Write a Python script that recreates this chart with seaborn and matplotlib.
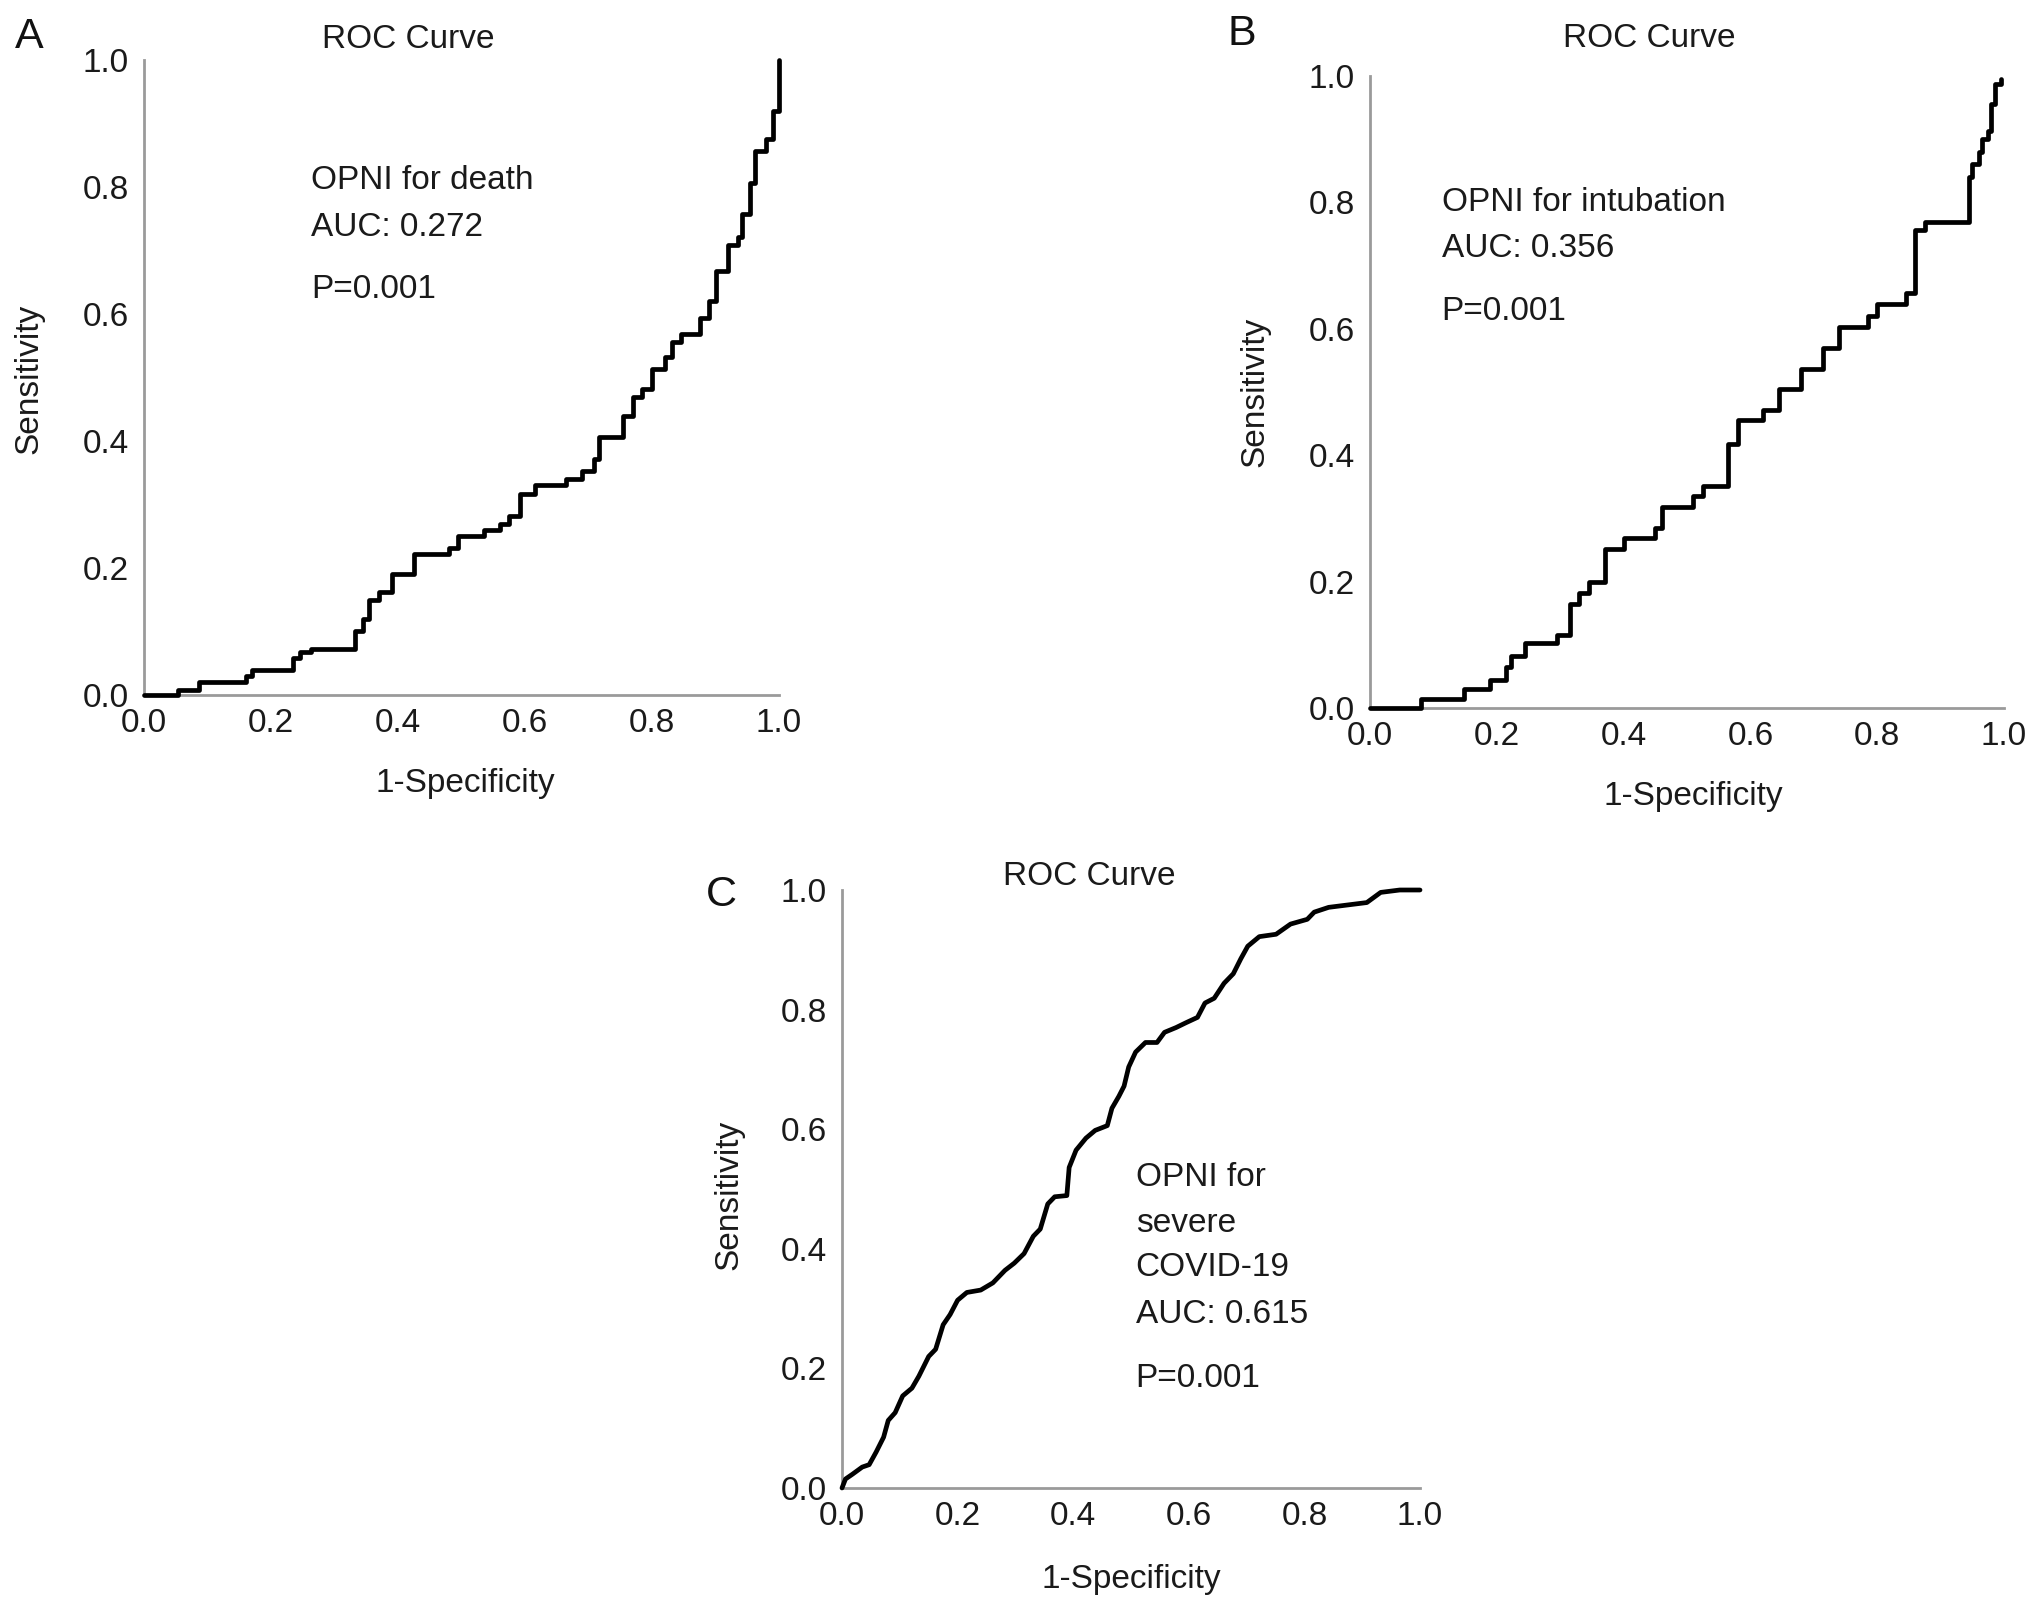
import numpy as np
import pandas as pd
import matplotlib
matplotlib.use("Agg")
import matplotlib.pyplot as plt
import seaborn as sns

# ---------------- data ----------------
# Panel A: OPNI for death (step points: x where step occurs, new y)
fpr_a = [0.0, 0.053, 0.086, 0.160, 0.170, 0.235, 0.245, 0.263, 0.333, 0.345, 0.355, 0.370,
         0.390, 0.425, 0.480, 0.495, 0.535, 0.560, 0.575, 0.592, 0.615, 0.665, 0.690, 0.708,
         0.717, 0.755, 0.770, 0.785, 0.800, 0.820, 0.832, 0.845, 0.875, 0.890, 0.900, 0.920,
         0.935, 0.942, 0.955, 0.962, 0.980, 0.990, 1.000]
tpr_a = [0.0, 0.008, 0.020, 0.030, 0.040, 0.058, 0.068, 0.072, 0.100, 0.120, 0.150, 0.162,
         0.190, 0.222, 0.232, 0.250, 0.260, 0.270, 0.282, 0.317, 0.330, 0.340, 0.352, 0.372,
         0.407, 0.440, 0.470, 0.482, 0.514, 0.532, 0.556, 0.568, 0.593, 0.620, 0.667, 0.708,
         0.722, 0.757, 0.807, 0.856, 0.876, 0.920, 1.000]

# Panel B: OPNI for intubation
fpr_b = [0.0, 0.080, 0.148, 0.190, 0.215, 0.222, 0.245, 0.295, 0.315, 0.330, 0.345, 0.370,
         0.400, 0.450, 0.460, 0.510, 0.525, 0.565, 0.580, 0.620, 0.645, 0.680, 0.715, 0.740,
         0.785, 0.800, 0.845, 0.860, 0.875, 0.945, 0.950, 0.960, 0.966, 0.975, 0.980, 0.986,
         0.996]
tpr_b = [0.0, 0.015, 0.030, 0.045, 0.065, 0.083, 0.103, 0.116, 0.165, 0.182, 0.200, 0.252,
         0.269, 0.285, 0.318, 0.335, 0.351, 0.417, 0.455, 0.471, 0.504, 0.537, 0.570, 0.603,
         0.620, 0.640, 0.657, 0.756, 0.769, 0.840, 0.860, 0.880, 0.900, 0.913, 0.955, 0.988,
         0.996]

# Panel C: OPNI for severe COVID-19
fpr_c = [0.0, 0.006, 0.018, 0.035, 0.047, 0.059, 0.072, 0.080, 0.092, 0.105, 0.121, 0.133,
         0.150, 0.162, 0.175, 0.187, 0.200, 0.216, 0.240, 0.261, 0.282, 0.298, 0.315, 0.331,
         0.343, 0.356, 0.368, 0.389, 0.393, 0.405, 0.422, 0.438, 0.459, 0.467, 0.479, 0.488,
         0.496, 0.508, 0.525, 0.545, 0.558, 0.578, 0.595, 0.615, 0.628, 0.644, 0.661, 0.677,
         0.690, 0.702, 0.722, 0.751, 0.776, 0.805, 0.817, 0.842, 0.875, 0.908, 0.932, 0.965,
         1.000]
tpr_c = [0.0, 0.015, 0.023, 0.035, 0.039, 0.060, 0.085, 0.113, 0.126, 0.154, 0.167, 0.187,
         0.220, 0.232, 0.273, 0.290, 0.314, 0.327, 0.331, 0.343, 0.364, 0.376, 0.392, 0.421,
         0.433, 0.475, 0.487, 0.489, 0.536, 0.565, 0.585, 0.598, 0.606, 0.635, 0.655, 0.672,
         0.704, 0.729, 0.745, 0.745, 0.762, 0.770, 0.778, 0.787, 0.811, 0.819, 0.844, 0.860,
         0.885, 0.906, 0.922, 0.926, 0.943, 0.951, 0.963, 0.971, 0.975, 0.979, 0.996, 1.000,
         1.000]

ticks = [0.0, 0.2, 0.4, 0.6, 0.8, 1.0]
tick_labels = ["0.0", "0.2", "0.4", "0.6", "0.8", "1.0"]
notes_a = ["OPNI for death", "AUC: 0.272", "P=0.001"]
notes_b = ["OPNI for intubation", "AUC: 0.356", "P=0.001"]
notes_c = ["OPNI for", "severe", "COVID-19", "AUC: 0.615", "P=0.001"]

# ---------------- style ----------------
sns.set_theme(style="white")
plt.rcParams["font.family"] = ["Liberation Sans", "DejaVu Sans"]

W, H = 2032, 1610
fig = plt.figure(figsize=(W / 100, H / 100), dpi=100)


def axes_px(x0, x1, ytop, ybot):
    return fig.add_axes([x0 / W, 1 - ybot / H, (x1 - x0) / W, (ybot - ytop) / H])


ax_a = axes_px(144, 779, 60, 695)
ax_b = axes_px(1370, 2004, 76, 708)
ax_c = axes_px(842, 1420, 890, 1488)

spine_col = "#9a9a9a"
txt_col = "#1a1a1a"


def style_ax(ax, fs):
    ax.set_xlim(0, 1)
    ax.set_ylim(0, 1)
    ax.set_xticks(ticks)
    ax.set_yticks(ticks)
    ax.set_xticklabels(tick_labels)
    ax.set_yticklabels(tick_labels)
    ax.tick_params(axis="both", length=0, labelsize=fs, colors=txt_col)
    ax.tick_params(axis="x", pad=9)
    ax.tick_params(axis="y", pad=11)
    for s in ["top", "right"]:
        ax.spines[s].set_visible(False)
    for s in ["left", "bottom"]:
        ax.spines[s].set_color(spine_col)
        ax.spines[s].set_linewidth(2.0)
    ax.grid(False)


def draw(ax, x, y, steps, notes, note_x, note_ys, letter, lab_pos, fs):
    df = pd.DataFrame({"x": x, "y": y})
    kw = dict(drawstyle="steps-post") if steps else {}
    sns.lineplot(data=df, x="x", y="y", ax=ax, color="black", linewidth=3.4,
                 estimator=None, sort=False, clip_on=False, zorder=3, **kw)
    style_ax(ax, fs)
    (xl, yl, tl, ll) = lab_pos
    ax.set_xlabel("1-Specificity", fontsize=fs, color=txt_col, va="center")
    ax.xaxis.set_label_coords(*xl)
    ax.set_ylabel("Sensitivity", fontsize=fs, color=txt_col, va="center")
    ax.yaxis.set_label_coords(*yl)
    ax.text(tl[0], tl[1], "ROC Curve", transform=ax.transAxes, fontsize=fs,
            ha="center", va="center", color=txt_col)
    ax.text(ll[0], ll[1], letter, transform=ax.transAxes, fontsize=31,
            ha="center", va="center", color="#111111")
    for t, yy in zip(notes, note_ys):
        ax.text(note_x, yy, t, fontsize=fs, ha="left", va="center", color=txt_col)


draw(ax_a, fpr_a, tpr_a, True, notes_a, 0.263, [0.81, 0.737, 0.638], "A",
     ((0.506, -0.140), (-0.181, 0.498), (0.416, 1.033), (-0.181, 1.037)), 24)
draw(ax_b, fpr_b, tpr_b, True, notes_b, 0.113, [0.80, 0.727, 0.628], "B",
     ((0.510, -0.1405), (-0.182, 0.500), (0.441, 1.060), (-0.202, 1.066)), 24)
draw(ax_c, fpr_c, tpr_c, False, notes_c, 0.508, [0.52, 0.442, 0.368, 0.29, 0.183], "C",
     ((0.5, -0.1535), (-0.195, 0.491), (0.427, 1.022), (-0.208, 0.992)), 24)

fig.savefig("out.png", dpi=100, facecolor="white")
